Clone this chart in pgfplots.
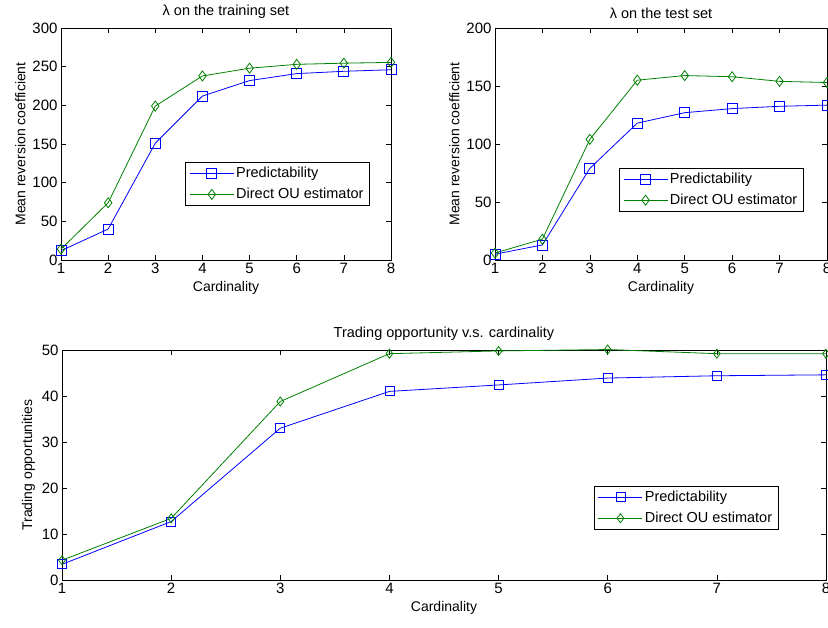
\documentclass[border=0pt]{standalone}
\usepackage{pgfplots}
\pgfplotsset{compat=1.18}
\usepackage{fontspec}
\setmainfont{Liberation Sans}
\definecolor{mblue}{RGB}{0,0,255}
\definecolor{mgreen}{RGB}{0,128,0}

\pgfplotsset{
  mstyle/.style={
    scale only axis,
    xmin=1, xmax=8, xtick={1,...,8},
    ymin=0,
    tick align=inside,
    major tick length=5pt,
    axis line style={line width=0.6pt},
    every tick/.style={line width=0.6pt, black},
    tick label style={font=\fontsize{15}{17}\selectfont},
    label style={font=\fontsize{14}{16}\selectfont},
    title style={font=\fontsize{14.5}{16}\selectfont},
    /pgf/number format/assume math mode=true,
    xlabel={Cardinality},
    clip=false,
    legend cell align=left,
    legend style={draw=black, line width=0.6pt, anchor=north west,
      font=\fontsize{14.5}{17}\selectfont, inner xsep=4pt, inner ysep=3pt,
      row sep=5pt},
    legend image code/.code={
      \draw[mark repeat=2, mark phase=2] plot coordinates {(0pt,0pt) (22pt,0pt) (44pt,0pt)};},
  },
  pred/.style={color=mblue, line width=0.8pt, mark=square, mark size=5pt},
  ou/.style={color=mgreen, line width=0.8pt, mark=diamond, mark size=5pt},
}

\begin{document}
\begin{tikzpicture}
\useasboundingbox (0,0) rectangle (828pt,628pt);

% lambda on the training set
\begin{axis}[mstyle,
  at={(61pt,368pt)}, anchor=south west,
  width=330pt, height=232pt,
  ymax=300, ytick={0,50,...,300},
  ylabel={Mean reversion coefficient},
  title={λ on the training set},
  legend style={at={(0.376,0.422)}},
]
\addplot[pred] coordinates {(1,12) (2,40) (3,151) (4,212) (5,232) (6,241) (7,244) (8,246)};
\addlegendentry{Predictability}
\addplot[ou] coordinates {(1,14) (2,74) (3,199) (4,238) (5,248) (6,253) (7,254.5) (8,255.5)};
\addlegendentry{Direct OU estimator}
\end{axis}

% lambda on the test set
\begin{axis}[mstyle,
  at={(495pt,368pt)}, anchor=south west,
  width=332pt, height=232pt,
  ymax=200, ytick={0,50,...,200},
  ylabel={Mean reversion coefficient},
  title={λ on the test set},
  legend style={at={(0.373,0.397)}},
]
\addplot[pred] coordinates {(1,5) (2,13) (3,79) (4,118) (5,127) (6,130.5) (7,132.5) (8,133.5)};
\addlegendentry{Predictability}
\addplot[ou] coordinates {(1,6) (2,18) (3,104) (4,155) (5,159) (6,158) (7,154) (8,153)};
\addlegendentry{Direct OU estimator}
\end{axis}

% trading opportunities
\begin{axis}[mstyle,
  at={(62pt,48pt)}, anchor=south west,
  width=764pt, height=230pt,
  ymax=50, ytick={0,10,...,50},
  ylabel={Trading opportunities},
  title={Trading opportunity v.s. cardinality},
  legend style={at={(0.696,0.409)}},
  pred/.append style={mark size=4.5pt},
  ou/.append style={mark size=4.5pt},
]
\addplot[pred] coordinates {(1,3.4) (2,12.7) (3,33) (4,41) (5,42.4) (6,43.9) (7,44.4) (8,44.6)};
\addlegendentry{Predictability}
\addplot[ou] coordinates {(1,4.3) (2,13.4) (3,38.8) (4,49.2) (5,49.8) (6,50.1) (7,49.2) (8,49.2)};
\addlegendentry{Direct OU estimator}
\end{axis}
\end{tikzpicture}
\end{document}
